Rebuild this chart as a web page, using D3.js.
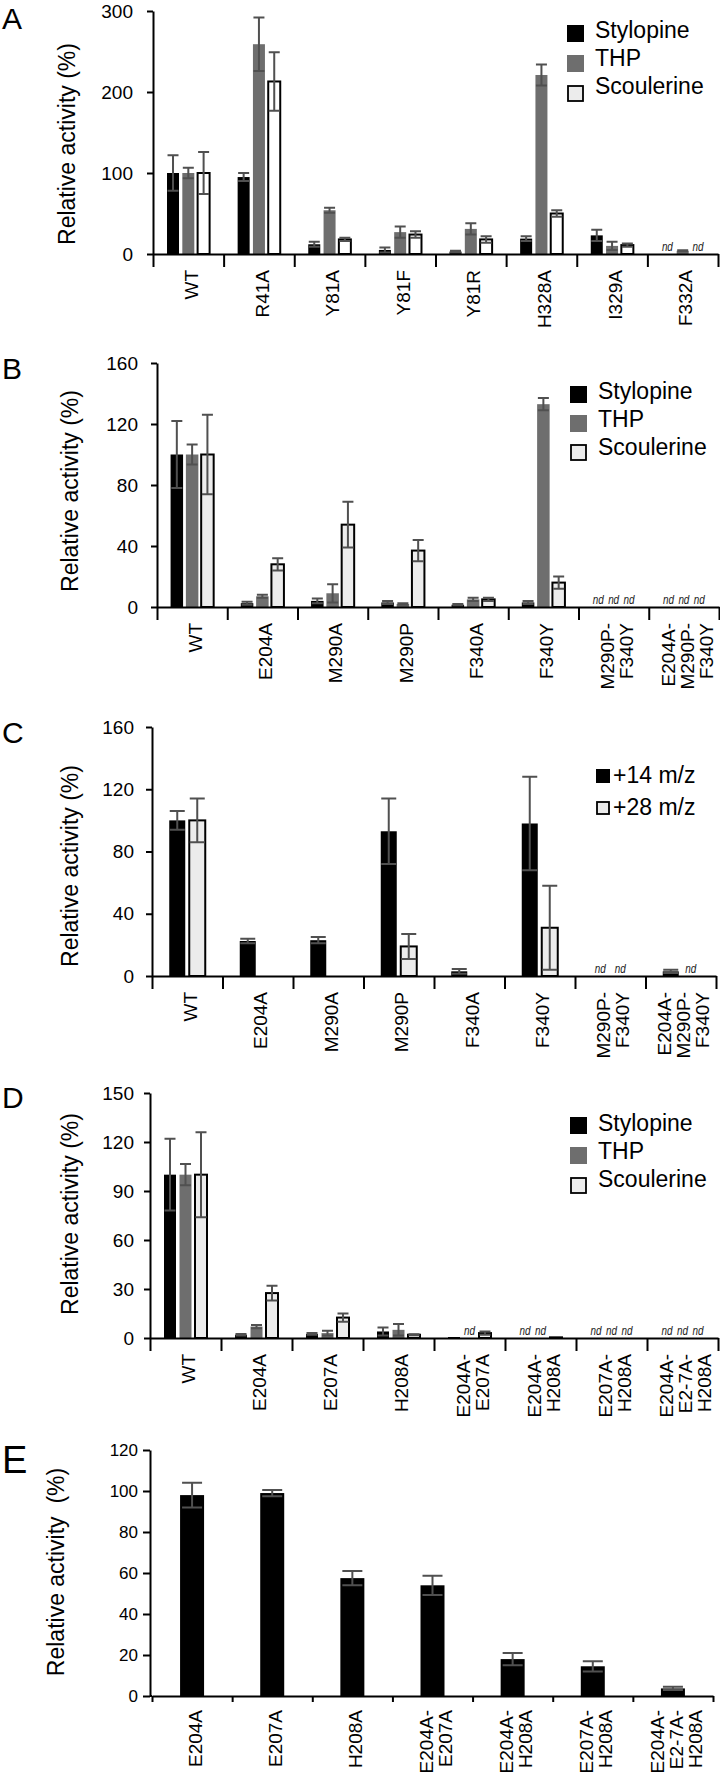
<!DOCTYPE html>
<html>
<head>
<meta charset="utf-8">
<script src="https://cdn.jsdelivr.net/npm/d3@7"></script>
<style>
  body { margin: 0; background: #fff; }
  text { font-family: "Liberation Sans", Arial, sans-serif; }
</style>
</head>
<body>
<div class="content"></div>
<script>
const width = 720;
const height = 1778;

// ---- data ----
const seriesNames = ["Stylopine", "THP", "Scoulerine"];
const massNames = ["+14 m/z", "+28 m/z"];

const catsA = ["WT", "R41A", "Y81A", "Y81F", "Y81R", "H328A", "I329A", "F332A"];
const styA = [100, 95, 12, 5, 3, 19, 23, null];
const styAErr = [22, 5, 3, 3, 1, 3, 7, 0];
const thpA = [100, 259, 54, 27, 31, 221, 10, 4];
const thpAErr = [6.5, 33, 3, 7, 7, 13, 5, 0.5];
const scoA = [100, 213, 18, 24, 18, 50, 11, null];
const scoAErr = [26, 36, 2, 4, 4, 4, 2, 0];
const ticksA = [0, 100, 200, 300];

const catsB = ["WT", "E204A", "M290A", "M290P", "F340A", "F340Y", ["M290P-", "F340Y"], ["E204A-", "M290P-", "F340Y"]];
const styB = [100, 2.5, 4, 3, 1.5, 3, null, null];
const styBErr = [22, 1, 1.5, 1, 0.5, 1, 0, 0];
const thpB = [100, 7, 9, 2, 5, 133, null, null];
const thpBErr = [6.5, 1, 6, 0.5, 1, 4, 0, 0];
const scoB = [100, 28, 54, 37, 5, 16, null, null];
const scoBErr = [26, 4, 15, 7, 1, 4, 0, 0];
const ticksB = [0, 40, 80, 120, 160];

const catsC = catsB;
const p14C = [100, 22.5, 23, 93, 3, 98, null, 3];
const p14CErr = [6, 1.5, 2, 21, 1.5, 30, 0, 1];
const p28C = [100, 0, 0, 19, 0, 31, null, null];
const p28CErr = [14, 0, 0, 8, 0, 27, 0, 0];
const ticksC = [0, 40, 80, 120, 160];

const catsD = ["WT", "E204A", "E207A", "H208A", ["E204A-", "E207A"], ["E204A-", "H208A"], ["E207A-", "H208A"], ["E204A-", "E2-7A-", "H208A"]];
const styD = [100, 2, 2.5, 4, 0.6, null, null, null];
const styDErr = [22, 0.5, 0.5, 2.5, 0, 0, 0, 0];
const thpD = [100, 7, 3, 5, null, null, null, null];
const thpDErr = [6.5, 1, 1.5, 3.5, 0, 0, 0, 0];
const scoD = [100, 27.5, 12.5, 2, 3, 0.4, null, null];
const scoDErr = [26, 4.5, 2.5, 0.3, 1, 0, 0, 0];
const ticksD = [0, 30, 60, 90, 120, 150];

const catsE = ["E204A", "E207A", "H208A", ["E204A-", "E207A"], ["E204A-", "H208A"], ["E207A-", "H208A"], ["E204A-", "E2-7A-", "H208A"]];
const valE = [98, 99, 57.5, 54, 18, 14.5, 3.7];
const valEErr = [6, 1.5, 3.5, 4.7, 3, 2.5, 0.8];
const ticksE = [0, 20, 40, 60, 80, 100, 120];

// ---- styles ----
const colSty = "#000";
const colThp = "#6e6e6e";
const colSco = "#ececec";
const colErr = "#505050";

const svg = d3.select('.content')
    .append('svg')
    .attr('width', width)
    .attr('height', height);

function drawPanel(p) {
    const g = svg.append("g");
    const y = d3.scaleLinear().domain([0, p.max]).range([p.y0, p.y1]);
    const x = d3.scaleBand().domain(d3.range(p.cats.length)).range([p.x0, p.x1]);
    const xIdx = d3.scaleLinear().domain([0, p.cats.length]).range([p.x0, p.x1]);
    const ns = p.series.length;

    p.series.forEach((s, k) => {
        const off = (k - (ns - 1) / 2) * p.step;
        const pts = s.vals.map((v, i) => ({ i: i, v: v, e: s.errs[i], cx: x(i) + x.bandwidth() / 2 + off }));

        g.selectAll(null)
            .data(pts.filter(d => d.v != null && d.v > 0))
            .enter().append("rect")
            .attr("x", d => d.cx - p.barW / 2)
            .attr("y", d => y(d.v))
            .attr("width", p.barW)
            .attr("height", d => y(0) - y(d.v))
            .attr("fill", s.fill)
            .attr("stroke", s.stroke || "none")
            .attr("stroke-width", 2);

        const eb = pts.filter(d => d.v != null && d.e > 0);
        g.selectAll(null)
            .data(eb)
            .enter().append("path")
            .attr("d", d => {
                const t = y(d.v + d.e), b = y(Math.max(0, d.v - d.e)), h = p.capW / 2;
                return `M${d.cx},${t}V${b}M${d.cx - h},${t}H${d.cx + h}M${d.cx - h},${b}H${d.cx + h}`;
            })
            .attr("fill", "none")
            .attr("stroke", colErr)
            .attr("stroke-width", 2);

        // not detected
        g.selectAll(null)
            .data(pts.filter(d => d.v == null))
            .enter().append("text")
            .attr("x", d => d.cx)
            .attr("y", p.y0 - 3)
            .attr("text-anchor", "middle")
            .attr("font-size", 13)
            .attr("font-style", "italic")
            .attr("textLength", 11)
            .attr("lengthAdjust", "spacingAndGlyphs")
            .attr("fill", "#222")
            .text("nd");
    });

    // y axis
    g.append("g")
        .attr("transform", `translate(${p.axisX},0)`)
        .call(d3.axisLeft(y).tickValues(p.ticks).tickSize(p.yTick).tickSizeOuter(0).tickPadding(p.pad))
        .call(a => a.selectAll("line, path").attr("stroke", "#000").attr("stroke-width", 2))
        .call(a => a.selectAll("text").attr("font-size", p.tickFont).attr("fill", "#000")
            .attr("font-family", '"Liberation Sans", Arial, sans-serif'));

    // x axis with category separators
    g.append("g")
        .attr("transform", `translate(0,${p.y0})`)
        .call(d3.axisBottom(xIdx).tickValues(d3.range(p.cats.length + 1)).tickSize(p.xTick).tickSizeOuter(0).tickFormat(""))
        .call(a => a.selectAll("line, path").attr("stroke", "#000").attr("stroke-width", 2));

    g.append("line")
        .attr("x1", p.axisX).attr("x2", p.x0)
        .attr("y1", p.y0).attr("y2", p.y0)
        .attr("stroke", "#000").attr("stroke-width", 2);

    // category labels, rotated
    p.cats.forEach((c, i) => {
        const lines = Array.isArray(c) ? c : [c];
        const n = lines.length;
        lines.forEach((ln, j) => {
            const cx = x(i) + x.bandwidth() / 2 + 3 + (j - (n - 1) / 2) * 19;
            g.append("text")
                .attr("transform", `translate(${cx},${p.y0 + p.lblDy}) rotate(-90)`)
                .attr("text-anchor", "end")
                .attr("dy", "0.35em")
                .attr("font-size", 19)
                .attr("fill", "#000")
                .text(ln);
        });
    });

    // y title
    g.append("text")
        .attr("transform", `translate(${p.titleX},${p.titleY}) rotate(-90)`)
        .attr("text-anchor", "middle")
        .attr("font-size", 23)
        .attr("fill", "#000")
        .style("white-space", "pre")
        .text(p.title);

    // panel letter
    g.append("text")
        .attr("x", 2)
        .attr("y", p.letterY)
        .attr("font-size", p.letterSize)
        .attr("fill", "#000")
        .text(p.letter);

    // legend
    const L = p.legend;
    L.items.forEach((it, k) => {
        g.append("rect")
            .attr("x", L.x + (it.stroke ? 1 : 0))
            .attr("y", L.y + k * L.step + (it.stroke ? 1 : 0))
            .attr("width", L.size - (it.stroke ? 2 : 0))
            .attr("height", L.size - (it.stroke ? 2 : 0))
            .attr("fill", it.fill)
            .attr("stroke", it.stroke || "none")
            .attr("stroke-width", 1.8);
        g.append("text")
            .attr("x", L.tx)
            .attr("y", L.ty + k * L.tstep)
            .attr("font-size", 23)
            .attr("fill", "#000")
            .text(it.label);
    });
}

const legend3 = (x, y, step, ty, tstep) => ({
    x: x, y: y, step: step, size: 17, tx: x + 28, ty: ty, tstep: tstep,
    items: [
        { label: seriesNames[0], fill: colSty },
        { label: seriesNames[1], fill: colThp },
        { label: seriesNames[2], fill: colSco, stroke: "#000" }
    ]
});

drawPanel({
    letter: "A", letterY: 29, letterSize: 30,
    cats: catsA, max: 300, ticks: ticksA,
    x0: 153, x1: 718, axisX: 153, y0: 254, y1: 11,
    yTick: 6, pad: 14, tickFont: 19, xTick: 13, lblDy: 16,
    barW: 12, step: 15.3, capW: 11,
    title: "Relative activity (%)", titleX: 75, titleY: 144,
    series: [
        { vals: styA, errs: styAErr, fill: colSty },
        { vals: thpA, errs: thpAErr, fill: colThp },
        { vals: scoA, errs: scoAErr, fill: "#fff", stroke: "#000" }
    ],
    legend: legend3(567, 25, 30, 38, 28)
});

drawPanel({
    letter: "B", letterY: 379, letterSize: 30,
    cats: catsB, max: 160, ticks: ticksB,
    x0: 157, x1: 719, axisX: 157, y0: 607, y1: 363,
    yTick: 6, pad: 13, tickFont: 19, xTick: 13, lblDy: 16,
    barW: 12.5, step: 15.3, capW: 11,
    title: "Relative activity (%)", titleX: 78, titleY: 491,
    series: [
        { vals: styB, errs: styBErr, fill: colSty },
        { vals: thpB, errs: thpBErr, fill: colThp },
        { vals: scoB, errs: scoBErr, fill: colSco, stroke: "#000" }
    ],
    legend: legend3(570, 386, 29, 399, 28)
});

drawPanel({
    letter: "C", letterY: 743, letterSize: 30,
    cats: catsC, max: 160, ticks: ticksC,
    x0: 152, x1: 716, axisX: 152, y0: 976, y1: 727,
    yTick: 6, pad: 12, tickFont: 19, xTick: 13, lblDy: 16,
    barW: 16, step: 20, capW: 15,
    title: "Relative activity (%)", titleX: 78, titleY: 866,
    series: [
        { vals: p14C, errs: p14CErr, fill: colSty },
        { vals: p28C, errs: p28CErr, fill: colSco, stroke: "#000" }
    ],
    legend: {
        x: 596, y: 769, step: 32, size: 14, tx: 613, ty: 783, tstep: 32,
        items: [
            { label: massNames[0], fill: colSty },
            { label: massNames[1], fill: colSco, stroke: "#000" }
        ]
    }
});

drawPanel({
    letter: "D", letterY: 1108, letterSize: 30,
    cats: catsD, max: 150, ticks: ticksD,
    x0: 150, x1: 718, axisX: 150, y0: 1338, y1: 1093,
    yTick: 6, pad: 10, tickFont: 19, xTick: 13, lblDy: 16,
    barW: 12, step: 15.5, capW: 11,
    title: "Relative activity (%)", titleX: 78, titleY: 1214,
    series: [
        { vals: styD, errs: styDErr, fill: colSty },
        { vals: thpD, errs: thpDErr, fill: colThp },
        { vals: scoD, errs: scoDErr, fill: colSco, stroke: "#000" }
    ],
    legend: legend3(570, 1117, 30, 1131, 28)
});

drawPanel({
    letter: "E", letterY: 1473, letterSize: 38,
    cats: catsE, max: 120, ticks: ticksE,
    x0: 152, x1: 713, axisX: 150, y0: 1696, y1: 1450,
    yTick: 7, pad: 5, tickFont: 17, xTick: 6, lblDy: 14,
    barW: 24, step: 0, capW: 20,
    title: "Relative activity  (%)", titleX: 64, titleY: 1572,
    series: [
        { vals: valE, errs: valEErr, fill: colSty }
    ],
    legend: { x: 0, y: 0, step: 0, size: 0, tx: 0, ty: 0, tstep: 0, items: [] }
});
</script>
</body>
</html>
